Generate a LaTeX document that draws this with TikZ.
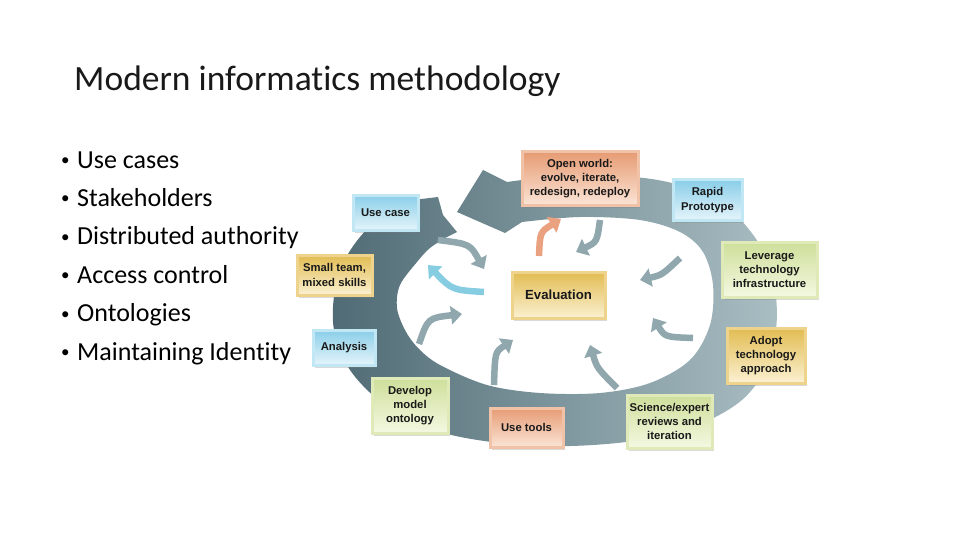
\documentclass[tikz,border=0pt]{standalone}
\usepackage{fontspec}
\setmainfont{Carlito}[Ligatures=NoCommon]
\newfontfamily\boxfont{Liberation Sans}
\usetikzlibrary{arrows.meta,shadows}
\definecolor{ringdark}{HTML}{506B75}
\definecolor{ringlight}{HTML}{A9BEC3}
\definecolor{flowgrey}{HTML}{8FA7AD}
\definecolor{flowblue}{HTML}{86CDE2}
\definecolor{flowred}{HTML}{E9A180}
\definecolor{bluelt}{HTML}{E4F4FA}
\definecolor{bluedk}{HTML}{8ACEE9}
\definecolor{bluefr}{HTML}{C2E7F4}
\definecolor{goldlt}{HTML}{FBF1D2}
\definecolor{golddk}{HTML}{E2BC52}
\definecolor{goldfr}{HTML}{EDD38C}
\definecolor{greenlt}{HTML}{F4F8E2}
\definecolor{greendk}{HTML}{CEDF9A}
\definecolor{greenfr}{HTML}{DFEAB8}
\definecolor{redlt}{HTML}{FBE4D6}
\definecolor{reddk}{HTML}{E69C74}
\definecolor{redfr}{HTML}{F0C3A8}

\begin{document}
\begin{tikzpicture}[x=1pt, y=-1pt,
  lbl/.style={font=\boxfont\bfseries\fontsize{11.3}{14.3}\selectfont, text=black!90, align=center, inner sep=0pt},
  box/.style={lbl, line width=3pt, drop shadow={opacity=.3, shadow xshift=2pt, shadow yshift=-3pt}},
  bluebox/.style={box, top color=bluedk, bottom color=bluelt, draw=bluefr},
  goldbox/.style={box, top color=golddk, bottom color=goldlt, draw=goldfr},
  greenbox/.style={box, top color=greendk, bottom color=greenlt, draw=greenfr},
  redbox/.style={box, top color=reddk, bottom color=redlt, draw=redfr},
  flow/.style={draw=#1, line width=6.5pt, -{Triangle[length=11pt, width=18pt]}},
  listitem/.style={anchor=base west, inner sep=0pt, font=\fontsize{26}{30}\selectfont}]
\useasboundingbox (0,0) rectangle (960,540);

\node[anchor=base west, inner sep=0pt, font=\fontsize{35.5}{40}\selectfont, text=black!90] (title) at (74,91) {Modern informatics methodology};

\foreach \t [count=\i from 0] in {Use cases, Stakeholders, Distributed authority, Access control, Ontologies, Maintaining Identity}
  \node[listitem] (item\i) at (61,{168+38.4*\i}) {\makebox[16pt][l]{\raisebox{2.5pt}{\fontsize{17}{17}\selectfont•}}\t};

% the big cycle band
\shade[left color=ringdark, right color=ringlight]
  plot[smooth, tension=.55] coordinates {(413,200) (398,207) (372,224) (348,254) (335,290) (334,330) (350,370) (385,405) (437,431) (500,443) (570,446) (640,440) (700,424) (742,400) (766,368) (776,330) (775,290) (761,247) (732,211) (700,192) (663,181) (620,176) (560,176) (507,182)}
  -- (483,170) -- (457,212) -- (505,233)
  -- plot[smooth, tension=.55] coordinates {(522,222) (580,217) (640,220) (680,232) (703,252) (713,285) (710,325) (690,360) (650,383) (600,393) (540,393) (487,385) (440,365) (418,348) (405,330) (397,308) (400,285) (417,262) (430,248) (447,237)}
  -- (457,232) -- (443,215) -- (438,197) -- cycle;

% small arrows inside the cycle
\coordinate (s1) at (600,220); \coordinate (c1) at (597,242); \coordinate (e1) at (576,252);
\coordinate (s2) at (539,256); \coordinate (c2) at (540,232); \coordinate (e2) at (561,219);
\coordinate (s3) at (438,240); \coordinate (c3) at (470,244); \coordinate (e3) at (484,269);
\coordinate (s4) at (484,292); \coordinate (c4) at (452,290); \coordinate (e4) at (428,265);
\coordinate (s5) at (419,344); \coordinate (c5) at (428,318); \coordinate (e5) at (462,314);
\coordinate (s6) at (494,385); \coordinate (c6) at (495,352); \coordinate (e6) at (513,340);
\coordinate (s7) at (617,388); \coordinate (c7) at (597,368); \coordinate (e7) at (590,345);
\coordinate (s8) at (693,338); \coordinate (c8) at (665,337); \coordinate (e8) at (653,318);
\coordinate (s9) at (680,258); \coordinate (c9) at (662,275); \coordinate (e9) at (640,280);
\foreach \n/\c in {1/flowgrey, 2/flowred, 3/flowgrey, 4/flowblue, 5/flowgrey, 6/flowgrey, 7/flowgrey, 8/flowgrey, 9/flowgrey}
  \draw[flow=\c] (s\n) .. controls (c\n) .. (e\n);

% steps
\node[redbox, minimum width=116pt, minimum height=53pt] (openw) at (580,178.5) {Open world:\\evolve, iterate,\\redesign, redeploy};
\node[bluebox, minimum width=69pt, minimum height=40pt] (rapid) at (707.5,200) {Rapid\\Prototype};
\node[greenbox, minimum width=95pt, minimum height=55pt] (lever) at (769.5,269.5) {Leverage\\technology\\infrastructure};
\node[goldbox, minimum width=78pt, minimum height=55pt] (adopt) at (766,355.5) {Adopt\\technology\\approach};
\node[greenbox, minimum width=85pt, minimum height=53pt] (review) at (669.5,421.5) {Science/expert\\reviews and\\iteration};
\node[redbox, minimum width=73pt, minimum height=39pt] (tools) at (526.5,427.5) {Use tools};
\node[greenbox, minimum width=76pt, minimum height=55pt] (onto) at (410,405.5) {Develop\\model\\ontology};
\node[bluebox, minimum width=62pt, minimum height=35pt] (anal) at (344,347.5) {Analysis};
\node[goldbox, minimum width=75pt, minimum height=40pt] (team) at (334.5,275) {Small team,\\mixed skills};
\node[bluebox, minimum width=65pt, minimum height=35pt] (ucase) at (385.5,212.5) {Use case};
\node[goldbox, minimum width=93pt, minimum height=46pt, font=\boxfont\bfseries\fontsize{13.2}{15}\selectfont] (eval) at (558.5,295) {Evaluation};
\end{tikzpicture}
\end{document}
